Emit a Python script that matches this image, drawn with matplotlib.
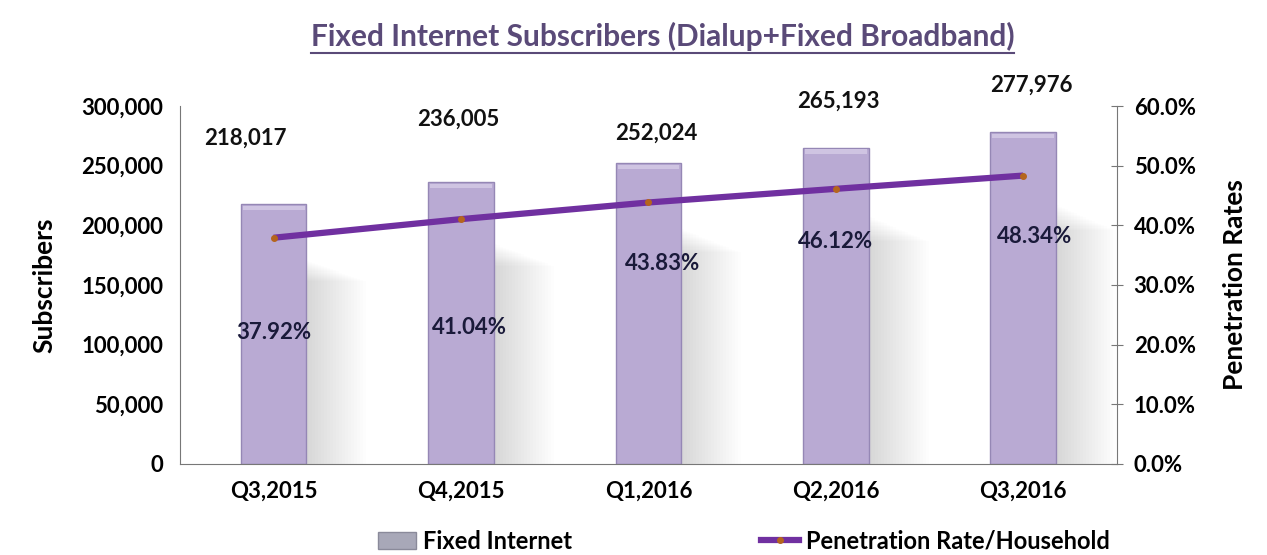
import numpy as np
import matplotlib
matplotlib.use("Agg")
import matplotlib.pyplot as plt
from matplotlib.lines import Line2D
from matplotlib.patches import Rectangle

plt.rcParams['font.family'] = ['Lato', 'DejaVu Sans']

# data
quarters = ["Q3,2015", "Q4,2015", "Q1,2016", "Q2,2016", "Q3,2016"]
subscribers = [218017, 236005, 252024, 265193, 277976]
penetration = [37.92, 41.04, 43.83, 46.12, 48.34]

# label offsets in points (value labels above bars, pct labels below line)
sub_off = [(-20, 40), (-2, 38), (6, 14), (2, 26), (6, 26)]
pct_off = [(0, -68), (6, -78), (10, -44), (0, -38), (8, -44)]

fig = plt.figure(figsize=(12.67, 5.55), dpi=100)
ax = fig.add_axes([0.142, 0.164, 0.7396, 0.645])
ax2 = ax.twinx()

x = np.arange(len(quarters))
w = 0.35

# soft shadows right of the bars
n = 20
for xi, v in zip(x, subscribers):
    for k in range(n):
        ax.add_patch(Rectangle((xi + w / 2, 0), 0.016 * (k + 1), v * (0.78 - 0.004 * k),
                               color="#8a8a8a", alpha=0.016, lw=0, zorder=1))

bars = ax.bar(x, subscribers, width=w, color="#b9aad3", edgecolor="#9587b5",
              linewidth=1.0, zorder=2, label="Fixed Internet")
# light top band on bars
for xi, v in zip(x, subscribers):
    ax.add_patch(Rectangle((xi - w / 2 + 0.01, v - 5000), w - 0.02, 3500,
                           color="#cfc4e2", lw=0, zorder=3))

ax.set_xlim(-0.5, len(quarters) - 0.5)
ax.set_ylim(0, 300000)
ax.set_yticks(np.arange(0, 300001, 50000))
ax.yaxis.set_major_formatter(matplotlib.ticker.FuncFormatter(lambda v, p: f"{int(v):,}"))
ax.tick_params(axis='y', length=0, pad=12, labelsize=16)
ax.tick_params(axis='x', length=0, pad=12, labelsize=16)
ax.set_xticks(x)
ax.set_xticklabels(quarters)
for lab in ax.get_xticklabels() + ax.get_yticklabels():
    lab.set_fontweight("bold")
for s in ["top", "right"]:
    ax.spines[s].set_visible(False)
ax.spines["left"].set_color("#777777")
ax.spines["bottom"].set_color("#777777")
ax.set_ylabel("Subscribers", fontsize=19, fontweight="bold", labelpad=18)

ax2.plot(x, penetration, color="#7030a0", lw=4.5, marker="o", markersize=4,
         markerfacecolor="#b5651d", markeredgecolor="#b5651d", zorder=5,
         label="Penetration Rate/Household", solid_capstyle="butt")
ax2.set_ylim(0, 60)
ax2.set_yticks(np.arange(0, 61, 10))
ax2.yaxis.set_major_formatter(matplotlib.ticker.FuncFormatter(lambda v, p: f"{v:.1f}%"))
ax2.tick_params(axis='y', direction="inout", length=8, color="#777777", pad=8, labelsize=16)
for lab in ax2.get_yticklabels():
    lab.set_fontweight("bold")
for s in ["top", "left", "bottom"]:
    ax2.spines[s].set_visible(False)
ax2.spines["right"].set_color("#777777")
ax2.set_ylabel("Penetration Rates", fontsize=19, fontweight="bold", labelpad=20)

for xi, v, off in zip(x, subscribers, sub_off):
    ax.annotate(f"{v:,}", (xi, v), xytext=off, textcoords="offset points",
                ha="center", va="bottom", fontsize=16, fontweight="bold",
                color="#111111", zorder=6)
for xi, p, off in zip(x, penetration, pct_off):
    ax2.annotate(f"{p:.2f}%", (xi, p), xytext=off, textcoords="offset points",
                 ha="center", va="center", fontsize=16, fontweight="bold",
                 color="#1a1a3a", zorder=6)

handles = [Rectangle((0, 0), 1, 1, facecolor="#a8a8b8", edgecolor="#8a8a9a"),
           Line2D([0], [0], color="#7030a0", lw=4.5, marker="o", markersize=4,
                  markerfacecolor="#b5651d", markeredgecolor="#b5651d")]
leg = fig.legend(handles, ["Fixed Internet", "Penetration Rate/Household"],
                 loc="center", bbox_to_anchor=(0.587, 0.025), ncol=2, frameon=False,
                 fontsize=17, columnspacing=8, handlelength=1.6, handletextpad=0.3)
for t in leg.get_texts():
    t.set_fontweight("bold")

title = fig.text(0.523, 0.935, "Fixed Internet Subscribers (Dialup+Fixed Broadband)",
                 ha="center", va="center", fontsize=21.5, fontweight="bold", color="#5a4a78")
fig.canvas.draw()
bb = title.get_window_extent().transformed(fig.transFigure.inverted())
fig.add_artist(Line2D([bb.x0, bb.x1], [bb.y0 - 0.004, bb.y0 - 0.004],
                      transform=fig.transFigure, color="#5a4a78", lw=1.5))

fig.savefig("out.png", dpi=100)
